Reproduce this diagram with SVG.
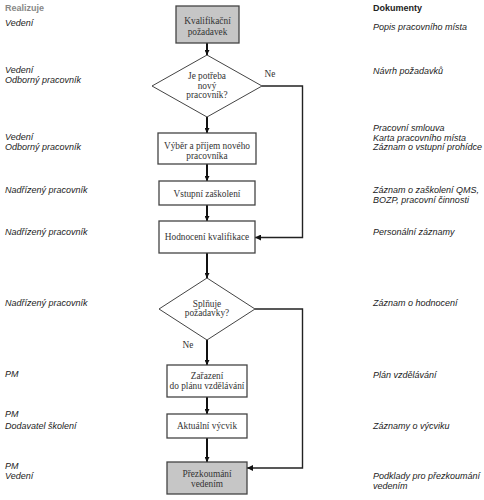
<svg xmlns="http://www.w3.org/2000/svg" width="484" height="500" viewBox="0 0 484 500">
<style>
.box{fill:#fff;stroke:#444;stroke-width:1.3}
.gray{fill:#c6c6c6}
.dia{fill:#fff;stroke:#444;stroke-width:1}
.nt{font-family:"Liberation Serif",serif;font-size:9.3px;fill:#333;text-anchor:middle}
.side{font-family:"Liberation Sans",Arial,sans-serif;font-size:9px;font-style:italic;fill:#222}
.hdr{font-family:"Liberation Sans",Arial,sans-serif;font-size:9px;font-weight:bold}
.main{stroke:#111;stroke-width:2;fill:none}
.thin{stroke:#222;stroke-width:1.4;fill:none}
</style>
<defs>
<marker id="ah" viewBox="0 0 10 10" refX="10" refY="5" markerWidth="5" markerHeight="5" markerUnits="userSpaceOnUse" orient="auto">
<path d="M0,0 L10,5 L0,10 z" fill="#111"/>
</marker>
<marker id="ah2" viewBox="0 0 10 10" refX="10" refY="5" markerWidth="7" markerHeight="6" markerUnits="userSpaceOnUse" orient="auto">
<path d="M0,0 L10,5 L0,10 z" fill="#111"/>
</marker>
</defs>
<g id="headers">
<text class="hdr" x="5" y="11" fill="#888">Realizuje</text>
<text class="hdr" x="373" y="11" fill="#222">Dokumenty</text>
</g>
<g id="left-labels">
<text class="side" x="5" y="26">Vedení</text>
<text class="side" x="5" y="73">Vedení</text>
<text class="side" x="5" y="83">Odborný pracovník</text>
<text class="side" x="5" y="140">Vedení</text>
<text class="side" x="5" y="150">Odborný pracovník</text>
<text class="side" x="5" y="193">Nadřízený pracovník</text>
<text class="side" x="5" y="235">Nadřízený pracovník</text>
<text class="side" x="5" y="306">Nadřízený pracovník</text>
<text class="side" x="5" y="377">PM</text>
<text class="side" x="5" y="417">PM</text>
<text class="side" x="5" y="429">Dodavatel školení</text>
<text class="side" x="5" y="469">PM</text>
<text class="side" x="5" y="479">Vedení</text>
</g>
<g id="right-labels">
<text class="side" x="373" y="30">Popis pracovního místa</text>
<text class="side" x="373" y="74">Návrh požadavků</text>
<text class="side" x="373" y="131">Pracovní smlouva</text>
<text class="side" x="373" y="140.5">Karta pracovního místa</text>
<text class="side" x="373" y="150">Záznam o vstupní prohídce</text>
<text class="side" x="373" y="193">Záznam o zaškolení QMS,</text>
<text class="side" x="373" y="203">BOZP, pracovní činnosti</text>
<text class="side" x="373" y="235">Personální záznamy</text>
<text class="side" x="373" y="306">Záznam o hodnocení</text>
<text class="side" x="373" y="377.5">Plán vzdělávání</text>
<text class="side" x="373" y="429">Záznamy o výcviku</text>
<text class="side" x="373" y="479">Podklady pro přezkoumání</text>
<text class="side" x="373" y="489">vedením</text>
</g>
<g id="connectors">
<line class="main" x1="207" y1="43" x2="207" y2="55" marker-end="url(#ah)"/>
<line class="main" x1="207" y1="117" x2="207" y2="133" marker-end="url(#ah)"/>
<line class="main" x1="207" y1="164" x2="207" y2="181" marker-end="url(#ah)"/>
<line class="main" x1="207" y1="205" x2="207" y2="221" marker-end="url(#ah)"/>
<line class="main" x1="207" y1="253" x2="207" y2="278" marker-end="url(#ah)"/>
<line class="main" x1="207" y1="340" x2="207" y2="365" marker-end="url(#ah)"/>
<line class="main" x1="207" y1="397" x2="207" y2="414" marker-end="url(#ah)"/>
<line class="main" x1="207" y1="438" x2="207" y2="462" marker-end="url(#ah)"/>
<polyline class="thin" points="262,86 302.5,86 302.5,237.5 255,237.5" marker-end="url(#ah2)"/>
<polyline class="thin" points="255,309 302.5,309 302.5,468 247,468" marker-end="url(#ah2)"/>
<text class="nt" x="270" y="77">Ne</text>
<text class="nt" x="188" y="348">Ne</text>
</g>
<g id="n1">
<rect class="box gray" x="176" y="6" width="63" height="37"/>
<text class="nt" x="207.5" y="24">Kvalifikační</text>
<text class="nt" x="207.5" y="35">požadavek</text>
</g>
<g id="n2">
<polygon class="dia" points="207,55 262,86 207,117 152,86"/>
<text class="nt" x="207" y="79">Je potřeba</text>
<text class="nt" x="207" y="88.5">nový</text>
<text class="nt" x="207" y="98">pracovník?</text>
</g>
<g id="n3">
<rect class="box" x="158" y="133" width="98" height="31"/>
<text class="nt" x="207" y="149">Výběr a příjem nového</text>
<text class="nt" x="207" y="158.5">pracovníka</text>
</g>
<g id="n4">
<rect class="box" x="159" y="181" width="96" height="24"/>
<text class="nt" x="207" y="197">Vstupní zaškolení</text>
</g>
<g id="n5">
<rect class="box" x="159" y="221" width="96" height="32"/>
<text class="nt" x="207" y="240">Hodnocení kvalifikace</text>
</g>
<g id="n6">
<polygon class="dia" points="207,278 255,309 207,340 159,309"/>
<text class="nt" x="207" y="306.5">Splňuje</text>
<text class="nt" x="207" y="316">požadavky?</text>
</g>
<g id="n7">
<rect class="box" x="167" y="365" width="80" height="32"/>
<text class="nt" x="207" y="379">Zařazení</text>
<text class="nt" x="207" y="389">do plánu vzdělávání</text>
</g>
<g id="n8">
<rect class="box" x="167" y="414" width="80" height="24"/>
<text class="nt" x="207" y="429">Aktuální výcvik</text>
</g>
<g id="n9">
<rect class="box gray" x="167" y="462" width="80" height="32"/>
<text class="nt" x="207" y="476.5">Přezkoumání</text>
<text class="nt" x="207" y="486.5">vedením</text>
</g>
</svg>
